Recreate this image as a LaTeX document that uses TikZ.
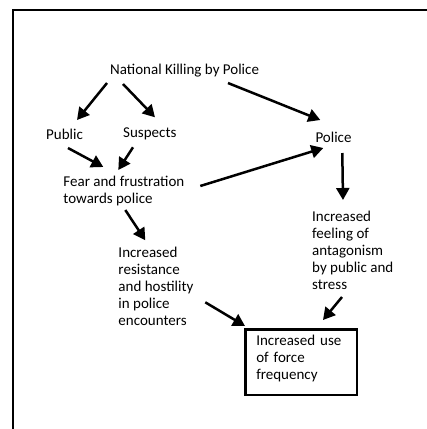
\documentclass[tikz,border=0pt]{standalone}
\usepackage{fontspec}
\setmainfont{Carlito}
\usetikzlibrary{arrows.meta}

\begin{document}
\begin{tikzpicture}[x=1bp, y=-1bp,
    lbl/.style = {anchor=base west, inner sep=0, align=left,
                  font=\fontsize{15bp}{17bp}\selectfont},
    multi/.style = {lbl, anchor=north west},
    arr/.style = {-{Triangle[length=12bp,width=13bp]}, line width=2.5bp}]

        \useasboundingbox (0,0) rectangle (427,429);
        \draw [line width=2bp] (427,10.3) -- (12.7,10.3) -- (12.7,429);

        \node [lbl] (killing) at (110,74) {National Killing by Police};
        \node [lbl] (public) at (46,139) {Public};
        \node [lbl] (suspects) at (123,137.3) {Suspects};
        \node [lbl] (police) at (315.3,142) {Police};
        \node [multi] (fear) at (63.3,175.5) {Fear and frustration\\towards police};
        \node [multi] (resist) at (118.3,246.8) {Increased\\resistance\\and hostility\\in police\\encounters};
        \node [multi] (antag) at (312,210.5) {Increased\\feeling of\\antagonism\\by public and\\stress};
        \node [multi, draw, line width=2.5bp, minimum width=111.5bp,
               minimum height=65.5bp, inner xsep=11bp, text width=89.5bp]
              (force) at (244,328) {Increased use\\of force\\frequency\rule[-10bp]{0pt}{10bp}};

        \draw [arr] ([shift={(-3,9)}]killing.base west) -- ([shift={(31,-19)}]public.base west);
        \draw [arr] ([shift={(13,10)}]killing.base west) -- ([shift={(32,-20)}]suspects.base west);
        \draw [arr] ([shift={(118,9)}]killing.base west) -- ([shift={(5,-22)}]police.base west);
        \draw [arr] ([shift={(22,9)}]public.base west) -- ([shift={(40,-8.5)}]fear.north west);
        \draw [arr] ([shift={(10,10)}]suspects.base west) -- ([shift={(55,-5.5)}]fear.north west);
        \draw [arr] ([shift={(137,10.5)}]fear.north west) -- ([shift={(8,6)}]police.base west);
        \draw [arr] ([shift={(62,34.5)}]fear.north west) -- ([shift={(27,-6.5)}]resist.north west);
        \draw [arr] ([shift={(27,11)}]police.base west) -- ([shift={(31,-10.5)}]antag.north west);
        \draw [arr] ([shift={(87,55.5)}]resist.north west) -- ([shift={(1,-2)}]force.north west);
        \draw [arr] ([shift={(30,86.5)}]antag.north west) -- ([shift={(79,-8)}]force.north west);
\end{tikzpicture}
\end{document}
